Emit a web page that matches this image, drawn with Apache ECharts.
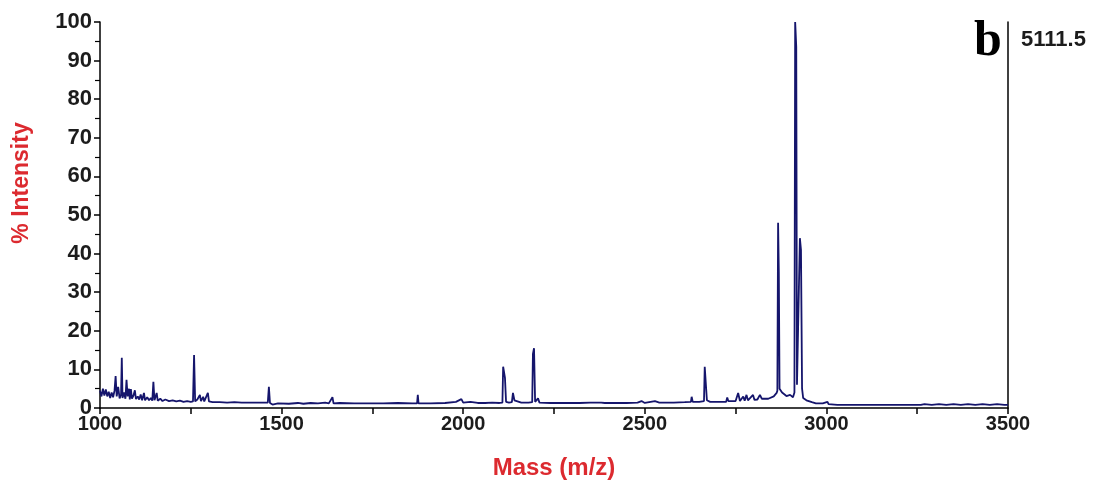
<!DOCTYPE html>
<html>
<head>
<meta charset="utf-8">
<script src="https://cdn.jsdelivr.net/npm/echarts@6/dist/echarts.min.js"></script>
<style>
  html, body { margin: 0; padding: 0; background: #ffffff; overflow: hidden; }
  #chart { width: 1101px; height: 486px; }
</style>
</head>
<body>
<div id="chart"></div>
<script>
// MALDI-TOF spectrum: m/z positions and relative intensities (%)
const massValues = [
  1000, 1004, 1008, 1012, 1016, 1020, 1024, 1028, 1032, 1036,
  1040, 1043, 1046, 1050, 1054, 1058, 1060, 1062, 1066, 1070,
  1073, 1076, 1080, 1082, 1085, 1088, 1092, 1096, 1099, 1104,
  1108, 1112, 1116, 1121, 1124, 1130, 1135, 1140, 1144, 1147,
  1150, 1156, 1159, 1166, 1172, 1180, 1190, 1200, 1210, 1220,
  1230, 1240, 1250, 1256, 1259, 1262, 1268, 1272, 1275, 1278,
  1284, 1287, 1292, 1297, 1300, 1310, 1330, 1350, 1370, 1390,
  1410, 1440, 1462, 1465, 1468, 1475, 1490, 1520, 1545, 1560,
  1580, 1600, 1620, 1630, 1640, 1643, 1660, 1700, 1740, 1780,
  1820, 1860, 1873, 1875, 1877, 1910, 1950, 1980, 1995, 2000,
  2020, 2040, 2060, 2080, 2100, 2108, 2110, 2113, 2115, 2118,
  2126, 2134, 2137, 2141, 2145, 2160, 2180, 2190, 2192, 2195,
  2198, 2203, 2206, 2210, 2240, 2280, 2320, 2350, 2380, 2385,
  2390, 2420, 2450, 2480, 2491, 2500, 2528, 2540, 2580, 2610,
  2627, 2629, 2632, 2650, 2663, 2665, 2668, 2671, 2680, 2710,
  2724, 2727, 2730, 2750, 2757, 2762, 2771, 2775, 2780, 2784,
  2798, 2802, 2810, 2817, 2822, 2840, 2855, 2863, 2865, 2867,
  2869, 2871, 2878, 2890, 2900, 2908, 2912, 2914, 2915, 2917,
  2919, 2924, 2927, 2930, 2933, 2936, 2945, 2960, 2971, 2990,
  3003, 3006, 3030, 3080, 3130, 3180, 3230, 3260, 3270, 3290,
  3310, 3330, 3350, 3370, 3390, 3410, 3430, 3450, 3470, 3490,
  3500
];
const intensityValues = [
  4.5, 3.0, 5.0, 3.2, 4.8, 3.0, 4.2, 2.6, 4.0, 2.8,
  4.5, 8.3, 3.0, 5.5, 2.5, 3.5, 13.0, 2.6, 4.0, 2.4,
  7.3, 3.0, 5.0, 2.2, 4.9, 2.4, 3.2, 4.6, 2.3, 3.0,
  2.2, 3.5, 2.0, 3.9, 2.0, 2.8, 2.0, 2.6, 1.9, 6.8,
  2.0, 3.9, 1.9, 2.4, 1.8, 2.2, 1.8, 2.0, 1.7, 1.9,
  1.6, 1.8, 1.6, 1.7, 13.7, 1.7, 2.2, 1.7, 3.4, 1.8,
  2.9, 1.7, 2.2, 3.9, 1.7, 1.5, 1.5, 1.4, 1.5, 1.4,
  1.4, 1.4, 1.4, 5.5, 1.3, 0.9, 1.2, 1.1, 1.3, 1.1,
  1.3, 1.2, 1.4, 1.2, 2.8, 1.2, 1.3, 1.2, 1.2, 1.2,
  1.3, 1.2, 1.2, 3.4, 1.2, 1.2, 1.3, 1.6, 2.3, 1.4,
  1.6, 1.3, 1.3, 1.4, 1.3, 1.4, 10.7, 10.5, 7.8, 1.6,
  1.4, 1.5, 3.9, 2.0, 1.5, 1.4, 1.4, 1.5, 14.0, 15.5,
  1.6, 1.6, 2.5, 1.4, 1.3, 1.3, 1.3, 1.4, 1.4, 1.9,
  1.3, 1.3, 1.3, 1.4, 1.8, 1.3, 1.8, 1.4, 1.4, 1.5,
  1.6, 2.9, 1.6, 1.6, 1.8, 10.7, 10.2, 2.0, 1.6, 1.6,
  1.6, 2.7, 1.8, 1.8, 3.9, 1.8, 3.0, 1.9, 3.4, 2.0,
  3.4, 2.1, 2.2, 3.4, 2.4, 2.4, 3.0, 3.9, 4.5, 48.0,
  35.3, 5.0, 4.0, 3.1, 3.4, 2.8, 4.0, 100, 98.0, 93.6,
  6.0, 6.5, 44.0, 41.0, 5.0, 2.6, 2.0, 1.5, 1.2, 1.2,
  1.6, 1.0, 0.8, 0.8, 0.8, 0.8, 0.8, 0.8, 1.0, 0.8,
  1.0, 0.8, 1.0, 0.8, 1.0, 0.8, 1.0, 0.8, 1.0, 0.8,
  0.8
];
const massTicks = { min: 1000, max: 3500, step: 500 };
const intensityTicks = { min: 0, max: 100, step: 10 };

const spectrum = massValues.map((m, i) => [m, intensityValues[i]]);

const chart = echarts.init(document.getElementById('chart'), null, { renderer: 'canvas' });
const red = '#dc2a2f';
const ink = '#1c1c1c';
const sans = '"Liberation Sans", Arial, sans-serif';

chart.setOption({
  animation: false,
  backgroundColor: '#ffffff',
  grid: { left: 100, right: 93, top: 22, bottom: 78 },
  xAxis: {
    type: 'value',
    min: massTicks.min, max: massTicks.max, interval: massTicks.step,
    name: 'Mass (m/z)',
    nameLocation: 'middle',
    nameGap: 48,
    nameTextStyle: { color: red, fontFamily: sans, fontWeight: 'bold', fontSize: 24 },
    axisLine: { show: true, onZero: false, lineStyle: { color: '#000', width: 1.5 } },
    axisTick: { show: true, inside: false, length: 6, lineStyle: { color: '#000', width: 1.5 } },
    minorTick: { show: true, splitNumber: 2, length: 6, lineStyle: { color: '#000', width: 1.5 } },
    axisLabel: {
      color: ink, fontFamily: sans, fontWeight: 'bold', fontSize: 20, margin: 6,
      formatter: v => String(v)
    },
    splitLine: { show: false }
  },
  yAxis: [{
    type: 'value',
    min: intensityTicks.min, max: intensityTicks.max, interval: intensityTicks.step,
    axisLine: { show: true, lineStyle: { color: '#000', width: 1.5 } },
    axisTick: { show: true, inside: false, length: 6, lineStyle: { color: '#000', width: 1.5 } },
    minorTick: { show: true, splitNumber: 2, length: 5, lineStyle: { color: '#000', width: 1.2 } },
    axisLabel: { color: ink, fontFamily: sans, fontWeight: 'bold', fontSize: 22, margin: 8 },
    splitLine: { show: false }
  }, {
    type: 'value',
    position: 'right',
    min: intensityTicks.min, max: intensityTicks.max, interval: intensityTicks.step,
    axisLine: { show: true, lineStyle: { color: '#000', width: 1.5 } },
    axisTick: { show: false },
    axisLabel: { show: false },
    splitLine: { show: false }
  }],
  graphic: [
    {
      type: 'text',
      x: 22, y: 183,
      rotation: Math.PI / 2,
      style: {
        text: '% Intensity',
        fill: red,
        font: 'bold 23px ' + sans,
        textAlign: 'center',
        textVerticalAlign: 'middle'
      }
    },
    {
      type: 'text',
      x: 974, y: 17,
      style: { text: 'b', fill: '#000', font: 'bold 50px "Liberation Serif", "Times New Roman", serif' }
    },
    {
      type: 'text',
      x: 1021, y: 29,
      style: { text: '5111.5', fill: ink, font: 'bold 22px ' + sans }
    }
  ],
  series: [{
    type: 'line',
    yAxisIndex: 0,
    data: spectrum,
    showSymbol: false,
    smooth: false,
    lineStyle: { color: '#15156c', width: 1.8 },
    z: 3
  }]
});
</script>
</body>
</html>
